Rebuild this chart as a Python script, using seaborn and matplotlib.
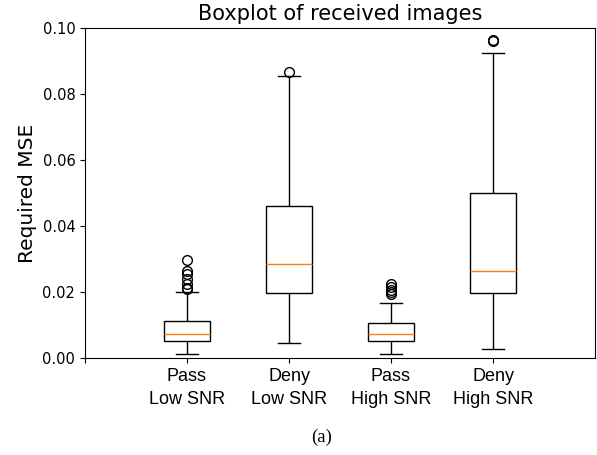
import pandas as pd
import matplotlib
matplotlib.use('Agg')
import matplotlib.pyplot as plt
import seaborn as sns

# Groups and the sorted samples
groups = ['Pass\nLow SNR', 'Deny\nLow SNR', 'Pass\nHigh SNR', 'Deny\nHigh SNR']

pass_low = [0.0011, 0.0016, 0.0021, 0.0026, 0.0030, 0.0034, 0.0038, 0.0042, 0.0046, 0.0049,
            0.0052, 0.0054, 0.0056, 0.0059, 0.0061, 0.0063, 0.0066, 0.0068, 0.0070, 0.0072,
            0.0074, 0.0077, 0.0080, 0.0084, 0.0088, 0.0092, 0.0096, 0.0100, 0.0105, 0.0109,
            0.0113, 0.0121, 0.0134, 0.0201, 0.0208, 0.0213, 0.0225, 0.0240, 0.0255, 0.0265,
            0.0298]
deny_low = [0.0045, 0.0080, 0.0110, 0.0140, 0.0165, 0.0185,
            0.0198, 0.0212, 0.0228, 0.0245, 0.0260, 0.0274,
            0.0286, 0.0310, 0.0340, 0.0370, 0.0400, 0.0432,
            0.0462, 0.0530, 0.0610, 0.0700, 0.0780, 0.0856, 0.0866]
pass_high = [0.0011, 0.0017, 0.0023, 0.0029, 0.0035, 0.0040, 0.0045, 0.0049,
             0.0052, 0.0055, 0.0058, 0.0061, 0.0064, 0.0067, 0.0069, 0.0071,
             0.0073, 0.0076, 0.0079, 0.0083, 0.0087, 0.0091, 0.0095, 0.0100,
             0.0105, 0.0118, 0.0140, 0.0166, 0.0195, 0.0200, 0.0207, 0.0215, 0.0225]
deny_high = [0.0026, 0.0060, 0.0095, 0.0130, 0.0160, 0.0182,
             0.0196, 0.0207, 0.0218, 0.0230, 0.0242, 0.0254,
             0.0265, 0.0300, 0.0340, 0.0380, 0.0420, 0.0460,
             0.0499, 0.0580, 0.0680, 0.0790, 0.0925, 0.0960, 0.0964]

yticks = [0.00, 0.02, 0.04, 0.06, 0.08, 0.10]

df = pd.concat([
    pd.DataFrame({'group': groups[0], 'mse': pass_low}),
    pd.DataFrame({'group': groups[1], 'mse': deny_low}),
    pd.DataFrame({'group': groups[2], 'mse': pass_high}),
    pd.DataFrame({'group': groups[3], 'mse': deny_high}),
])

fig = plt.figure(figsize=(5.97, 4.55), dpi=100)
ax = fig.add_axes([85 / 597, 97 / 455, 510 / 597, 330 / 455])

sns.boxplot(data=df, x='group', y='mse', order=groups, ax=ax,
            color='white', linecolor='black', linewidth=1, width=0.45,
            fliersize=7,
            medianprops={'color': '#ff7f0e', 'linewidth': 1})

ax.set_xlim(-1, 4)
ax.set_ylim(0, 0.1)
ax.set_xticks([-1, 0, 1, 2, 3])
ax.set_xticklabels([''] + groups, family='Liberation Sans', fontsize=13)
for lbl in ax.get_xticklabels():
    lbl.set_linespacing(1.45)
ax.set_yticks(yticks)
ax.tick_params(axis='y', labelsize=10.5)
ax.set_xlabel('')
ax.set_ylabel('Required MSE', fontsize=14.5)
ax.set_title('Boxplot of received images', fontsize=15)

# Figure caption
fig.text(322 / 597, 1 - 437 / 455, '(a)', family='Liberation Serif',
         fontsize=13.5, ha='center', va='center')

fig.savefig('out.png', dpi=100)
